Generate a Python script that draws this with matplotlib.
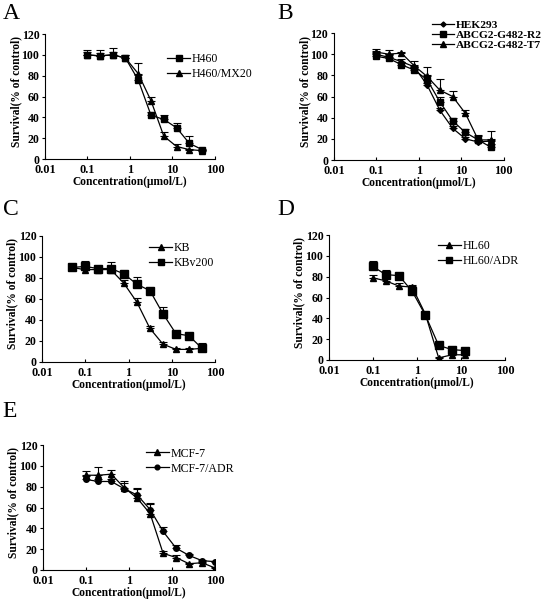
import matplotlib
matplotlib.use("Agg")
import matplotlib.pyplot as plt
from matplotlib.lines import Line2D
import numpy as np

plt.rcParams['font.family'] = ['Liberation Serif', 'DejaVu Serif']

# Panel A
a_conc = [0.098, 0.195, 0.39, 0.78, 1.56, 3.125, 6.25, 12.5, 25, 50]
a_h460 = [100, 99, 100, 97, 76, 42, 38, 30, 15, 9]
a_h460_err = [5, 6, 7, 3, 5, 3, 4, 5, 7, 1]
a_mx20 = [100, 99, 100, 97, 82, 56, 22, 12, 9, 8]
a_mx20_err = [3, 3, 3, 3, 10, 4, 4, 2, 1, 1]

# Panel B
b_conc = [0.098, 0.195, 0.39, 0.78, 1.56, 3.125, 6.25, 12.5, 25, 50]
b_hek = [100, 97, 93, 88, 71, 47, 30, 20, 17, 18]
b_hek_err = [3, 3, 2, 2, 2, 2, 2, 2, 2, 2]
b_r2 = [98, 96, 90, 85, 76, 55, 37, 26, 19, 12]
b_r2_err = [3, 3, 3, 3, 4, 5, 3, 3, 4, 3]
b_t7 = [102, 100, 101, 89, 79, 66, 60, 44, 19, 19]
b_t7_err = [3, 4, 1, 5, 9, 11, 5, 3, 5, 8]

# Panel C
c_conc = [0.049, 0.098, 0.195, 0.39, 0.78, 1.56, 3.125, 6.25, 12.5, 25, 50]
c_kb = [90, 88, 88, 88, 75, 57, 32, 17, 12, 12, 13]
c_kb_err = [2, 2, 2, 7, 3, 4, 2, 2, 1, 1, 1]
c_kbv = [90, 91, 89, 89, 84, 74, 68, 46, 27, 25, 13]
c_kbv_err = [3, 5, 2, 2, 3, 7, 2, 6, 2, 3, 5]

# Panel D
d_conc = [0.098, 0.195, 0.39, 0.78, 1.56, 3.125, 6.25, 12.5]
d_hl60 = [79, 76, 71, 70, 44, 2, 5, 5]
d_hl60_err = [3, 3, 3, 2, 2, 1, 1, 1]
d_adr = [90, 82, 81, 66, 43, 14, 10, 9]
d_adr_err = [5, 4, 3, 5, 3, 2, 2, 2]

# Panel E
e_conc = [0.098, 0.195, 0.39, 0.78, 1.56, 3.125, 6.25, 12.5, 25, 50, 100]
e_mcf = [91, 91, 92, 79, 69, 54, 16, 12, 6, 7, 2]
e_mcf_err = [4, 8, 4, 6, 10, 10, 2, 2, 1, 1, 1]
e_adr = [87, 85, 85, 78, 72, 58, 37, 21, 14, 9, 8]
e_adr_err = [3, 2, 2, 6, 6, 5, 4, 3, 1, 1, 1]

xticks = [0.01, 0.1, 1, 10, 100]
xticklabels = ['0.01', '0.1', '1', '10', '100']
yticks = [0, 20, 40, 60, 80, 100, 120]

fig = plt.figure(figsize=(5.5, 6), dpi=100)

def setup(ax):
    ax.set_xscale('log')
    ax.set_xlim(0.01, 100)
    ax.set_ylim(0, 120)
    ax.set_xticks(xticks)
    ax.set_xticklabels(xticklabels)
    ax.xaxis.set_minor_locator(matplotlib.ticker.NullLocator())
    ax.set_yticks(yticks)
    ax.spines['top'].set_visible(False)
    ax.spines['right'].set_visible(False)
    ax.tick_params(axis='y', labelsize=8.6, length=2.5, width=0.8, pad=1.5)
    ax.tick_params(axis='x', labelsize=8.8, length=2, width=0.8, pad=3.5, direction='in')
    for lab in ax.get_xticklabels() + ax.get_yticklabels():
        lab.set_fontweight('bold')
    ax.set_xlabel('Concentration(μmol/L)', fontsize=8.3, fontweight='bold', labelpad=0)
    ax.set_ylabel('Survival(% of control)', fontsize=8.3, fontweight='bold')
    ax.yaxis.set_label_coords(-0.135, 0.54)

def series(ax, x, y, err, marker, ms, label):
    ax.errorbar(x, y, yerr=[np.zeros(len(err)), err], color='black', marker=marker,
                markersize=ms, linewidth=0.9, elinewidth=0.8, capsize=3, capthick=0.8)
    return Line2D([], [], color='black', marker=marker, markersize=ms * 0.85,
                  linewidth=0.9, label=label)

def legend(ax, handles, loc, fs=8.6, spacing=0.25, weight='normal'):
    ax.legend(handles=handles, loc='upper left', bbox_to_anchor=loc, frameon=False,
              prop={'size': fs, 'weight': weight},
              handlelength=1.9, handletextpad=0.15, labelspacing=spacing,
              borderpad=0, borderaxespad=0)

# A
axA = fig.add_axes([0.0818, 0.735, 0.309, 0.2083])
setup(axA)
h = [series(axA, a_conc, a_h460, a_h460_err, 's', 5, 'H460'),
     series(axA, a_conc, a_mx20, a_mx20_err, '^', 5, 'H460/MX20')]
legend(axA, h, (0.72, 0.85))

# B
axB = fig.add_axes([0.607, 0.7333, 0.309, 0.2117])
setup(axB)
h = [series(axB, b_conc, b_hek, b_hek_err, 'D', 3, 'HEK293'),
     series(axB, b_conc, b_r2, b_r2_err, 's', 4.5, 'ABCG2-G482-R2'),
     series(axB, b_conc, b_t7, b_t7_err, '^', 4.5, 'ABCG2-G482-T7')]
legend(axB, h, (0.58, 1.1), fs=8.2, spacing=0.0, weight='bold')

# C
axC = fig.add_axes([0.0764, 0.3967, 0.3145, 0.21])
setup(axC)
h = [series(axC, c_conc, c_kb, c_kb_err, '^', 5, 'KB'),
     series(axC, c_conc, c_kbv, c_kbv_err, 's', 5.5, 'KBv200')]
legend(axC, h, (0.62, 0.95))

# D
axD = fig.add_axes([0.598, 0.4, 0.32, 0.2083])
setup(axD)
h = [series(axD, d_conc, d_hl60, d_hl60_err, '^', 5, 'HL60'),
     series(axD, d_conc, d_adr, d_adr_err, 's', 5.5, 'HL60/ADR')]
legend(axD, h, (0.62, 0.96))

# E
axE = fig.add_axes([0.078, 0.05, 0.3127, 0.2083])
setup(axE)
h = [series(axE, e_conc, e_mcf, e_mcf_err, '^', 5, 'MCF-7'),
     series(axE, e_conc, e_adr, e_adr_err, 'o', 4, 'MCF-7/ADR')]
legend(axE, h, (0.6, 0.98))

for letter, (x, y) in zip('ABCDE', [(0.005, 0.995), (0.505, 0.995), (0.005, 0.668), (0.505, 0.668), (0.005, 0.332)]):
    fig.text(x, y, letter, fontsize=17, va='top', ha='left')

fig.savefig('out.png', dpi=100)
